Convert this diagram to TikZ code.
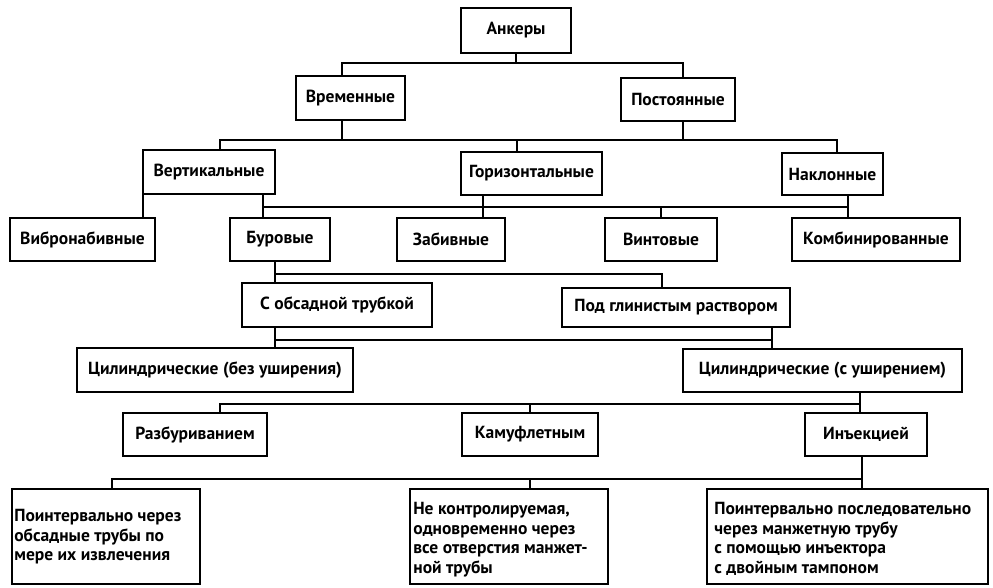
\documentclass[tikz,border=0pt]{standalone}
\usepackage{fontspec}
\setmainfont{PT Sans}
\begin{document}
\begin{tikzpicture}[x=1pt,y=-1pt,
  box/.style={draw, line width=1.7pt, inner sep=0pt, font=\bfseries\fontsize{17.5}{19.5}\selectfont},
  txt/.style={inner sep=0pt, align=left, font=\bfseries\fontsize{17.5}{19.5}\selectfont},
  wire/.style={line width=1.7pt}]
\useasboundingbox (0,0) rectangle (993,587);
% nodes
\node[box, minimum width=110pt, minimum height=45pt] (ank) at (516,30.5) {Анкеры};
\node[box, minimum width=109pt, minimum height=44pt] (vrem) at (350.5,98) {Временные};
\node[box, minimum width=114pt, minimum height=43pt] (post) at (678,99.5) {Постоянные};
\node[box, minimum width=132pt, minimum height=44pt] (vert) at (209,172) {Вертикальные};
\node[box, minimum width=141pt, minimum height=43pt] (gor) at (531.5,173.5) {Горизонтальные};
\node[box, minimum width=101pt, minimum height=42pt] (nakl) at (832.5,174) {Наклонные};
\node[box, minimum width=145pt, minimum height=43pt] (vibr) at (82.5,239.5) {Вибронабивные};
\node[box, minimum width=100pt, minimum height=43pt] (bur) at (280,239.5) {Буровые};
\node[box, minimum width=108pt, minimum height=43pt] (zab) at (451,239.5) {Забивные};
\node[box, minimum width=112pt, minimum height=43pt] (vint) at (661,239.5) {Винтовые};
\node[box, minimum width=168pt, minimum height=43pt] (komb) at (876,239.5) {Комбинированные};
\node[box, minimum width=190pt, minimum height=44pt] (sobs) at (337,305) {С обсадной трубкой};
\node[box, minimum width=228pt, minimum height=39pt] (podgl) at (676,307.5) {Под глинистым раствором};
\node[box, minimum width=276pt, minimum height=44pt] (cylb) at (215,370) {Цилиндрические (без уширения)};
\node[box, minimum width=279pt, minimum height=43pt] (cylu) at (822.5,370.5) {Цилиндрические (с уширением)};
\node[box, minimum width=144pt, minimum height=43pt] (razb) at (195,434.5) {Разбуриванием};
\node[box, minimum width=136pt, minimum height=43pt] (kam) at (530,434.5) {Камуфлетным};
\node[box, minimum width=122pt, minimum height=43pt] (inj) at (866,434.5) {Инъекцией};
\node[box, minimum width=188pt, minimum height=95pt] (b1) at (106,536.5) {};
\node[box, minimum width=198pt, minimum height=95pt] (b2) at (509,536.5) {};
\node[box, minimum width=281pt, minimum height=95pt] (b3) at (847.5,536.5) {};
\node[txt, anchor=north west] (b1t) at ([xshift=3pt,yshift=-21pt]b1.north west)
  {Поинтервально через\\обсадные трубы по\\мере их извлечения};
\node[txt, anchor=north west] (b2t) at ([xshift=4pt,yshift=-14pt]b2.north west)
  {Не контролируемая,\\одновременно через\\все отверстия манжет-\\ной трубы};
\node[txt, anchor=north west] (b3t) at ([xshift=8pt,yshift=-14pt]b3.north west)
  {Поинтервально последовательно\\через манжетную трубу\\с помощью инъектора\\с двойным тампоном};
% bus levels
\coordinate (busA) at (0,63);
\coordinate (busB) at (0,140);
\coordinate (busC) at (0,207);
\coordinate (busD) at (0,274);
\coordinate (busE) at (0,340);
\coordinate (busF) at (0,404);
\coordinate (busG) at (0,479);
% level 1
\draw[wire] (ank.south) -- (ank.south |- busA);
\draw[wire] ([xshift=-8.5pt]vrem.north) -- ([xshift=-8.5pt]vrem.north |- busA)
  -- ([xshift=5pt]post.north |- busA) -- ([xshift=5pt]post.north);
% level 2
\draw[wire] ([xshift=-8.5pt]vrem.south) -- ([xshift=-8.5pt]vrem.south |- busB);
\draw[wire] ([xshift=5pt]post.south) -- ([xshift=5pt]post.south |- busB);
\draw[wire] ([xshift=11pt]vert.north) -- ([xshift=11pt]vert.north |- busB)
  -- ([xshift=4.5pt]nakl.north |- busB) -- ([xshift=4.5pt]nakl.north);
\draw[wire] ([xshift=-14.5pt]gor.north) -- ([xshift=-14.5pt]gor.north |- busB);
% level 3
\draw[wire] ([xshift=-66pt]vert.south) -- ([xshift=-66pt]vert.south |- vibr.north);
\draw[wire] ([xshift=54pt]vert.south) -- ([xshift=54pt]vert.south |- bur.north);
\draw[wire] ([xshift=54pt]vert.south |- busC) -- ([xshift=15.5pt]nakl.south |- busC);
\draw[wire] ([xshift=-48.5pt]gor.south) -- ([xshift=-48.5pt]gor.south |- zab.north);
\draw[wire] (vint.north) -- (vint.north |- busC);
\draw[wire] ([xshift=15.5pt]nakl.south) -- ([xshift=15.5pt]nakl.south |- komb.north);
% level 4
\draw[wire] ([xshift=-5pt]bur.south) -- ([xshift=-5pt]bur.south |- sobs.north);
\draw[wire] ([xshift=-5pt]bur.south |- busD) -- ([xshift=-14pt]podgl.north |- busD)
  -- ([xshift=-14pt]podgl.north);
% level 5
\draw[wire] ([xshift=-62pt]sobs.south) -- ([xshift=-62pt]sobs.south |- cylb.north);
\draw[wire] ([xshift=-62pt]sobs.south |- busE) -- ([xshift=96pt]podgl.south |- busE);
\draw[wire] ([xshift=96pt]podgl.south) -- ([xshift=96pt]podgl.south |- cylu.north);
% level 6
\draw[wire] ([xshift=37.5pt]cylu.south) -- ([xshift=37.5pt]cylu.south |- inj.north);
\draw[wire] ([xshift=25pt]razb.north) -- ([xshift=25pt]razb.north |- busF)
  -- ([xshift=37.5pt]cylu.south |- busF);
\draw[wire] (kam.north) -- (kam.north |- busF);
% level 7
\draw[wire] ([xshift=-4pt]inj.south) -- ([xshift=-4pt]inj.south |- b3.north);
\draw[wire] ([xshift=6pt]b1.north) -- ([xshift=6pt]b1.north |- busG)
  -- ([xshift=-4pt]inj.south |- busG);
\draw[wire] ([xshift=21pt]b2.north) -- ([xshift=21pt]b2.north |- busG);
\end{tikzpicture}
\end{document}
